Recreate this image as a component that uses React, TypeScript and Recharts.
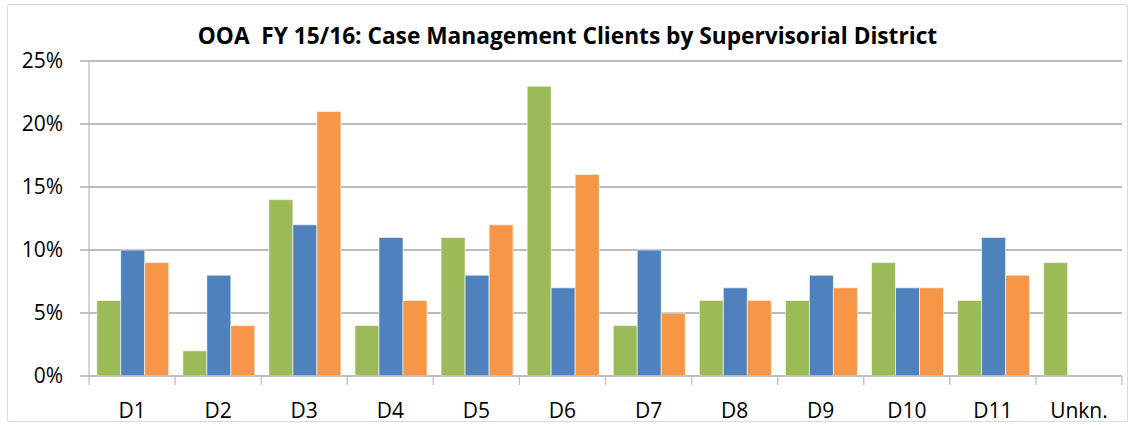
import { BarChart, Bar, XAxis, YAxis, CartesianGrid } from "recharts";

const categories = ["D1", "D2", "D3", "D4", "D5", "D6", "D7", "D8", "D9", "D10", "D11", "Unkn."];
const greenVals = [6, 2, 14, 4, 11, 23, 4, 6, 6, 9, 6, 9];
const blueVals = [10, 8, 12, 11, 8, 7, 10, 7, 8, 7, 11, null];
const orangeVals = [9, 4, 21, 6, 12, 16, 5, 6, 7, 7, 8, null];
const yTicks = [0, 5, 10, 15, 20, 25];

const data = categories.map((name, i) => ({
  name,
  green: greenVals[i],
  blue: blueVals[i],
  orange: orangeVals[i],
}));

const W = 1135;
const H = 425;
const M = { top: 61, right: 13, bottom: 0, left: 0 };
const Y_W = 89;
const X_H = 49;
const band = (W - M.left - M.right - Y_W) / categories.length;

const FONT = "'Open Sans', Lato, sans-serif";
const AXIS = "#BFBFBF";

// x tick: label + boundary tick marks between categories
const XTick = (props: any) => {
  const { x, y, payload, index } = props;
  const left = x - band / 2;
  return (
    <g>
      <line x1={left} x2={left} y1={y} y2={y + 9} stroke={AXIS} strokeWidth={1.3} />
      {index === categories.length - 1 && (
        <line x1={x + band / 2} x2={x + band / 2} y1={y} y2={y + 9} stroke={AXIS} strokeWidth={1.3} />
      )}
      <text x={x} y={y + 42} textAnchor="middle" fill="#000" fontSize={21} fontFamily={FONT}>
        {payload.value}
      </text>
    </g>
  );
};

export default function App() {
  return (
    <div style={{ position: "absolute", left: 0, top: 0, width: W, height: H, background: "#fff" }}>
      <div
        style={{
          position: "absolute", left: 7, top: 4, width: 1121, height: 418,
          border: "1px solid #D9D9D9", borderRadius: 2, boxSizing: "border-box",
        }}
      />
      <div
        style={{
          position: "absolute", left: 0, top: 21, width: W, textAlign: "center",
          fontFamily: FONT, fontWeight: 700, fontSize: 22.7, color: "#000", whiteSpace: "pre",
          lineHeight: "30px",
        }}
      >
        {"OOA  FY 15/16: Case Management Clients by Supervisorial District"}
      </div>
      <BarChart
        width={W}
        height={H}
        data={data}
        margin={M}
        barCategoryGap="9%"
        barGap={0}
        style={{ position: "absolute", left: 0, top: 0 }}
      >
        <CartesianGrid vertical={false} stroke="#A6A6A6" strokeWidth={1.3} />
        <XAxis
          dataKey="name"
          height={X_H}
          axisLine={{ stroke: AXIS, strokeWidth: 1.3 }}
          tickLine={false}
          tickSize={0}
          tickMargin={0}
          tick={<XTick />}
          interval={0}
        />
        <YAxis
          width={Y_W}
          domain={[0, 25]}
          ticks={yTicks}
          interval={0}
          tickFormatter={(v) => `${v}%`}
          axisLine={{ stroke: AXIS, strokeWidth: 1.3 }}
          tickLine={{ stroke: "#A6A6A6", strokeWidth: 1.3 }}
          tickSize={9}
          tickMargin={17}
          tick={{ fill: "#000", fontSize: 21, fontFamily: FONT }}
        />
        <Bar dataKey="green" fill="#9BBB59" stroke="#fff" strokeOpacity={0.6} isAnimationActive={false} />
        <Bar dataKey="blue" fill="#4F81BD" stroke="#fff" strokeOpacity={0.6} isAnimationActive={false} />
        <Bar dataKey="orange" fill="#F79646" stroke="#fff" strokeOpacity={0.6} isAnimationActive={false} />
      </BarChart>
    </div>
  );
}
